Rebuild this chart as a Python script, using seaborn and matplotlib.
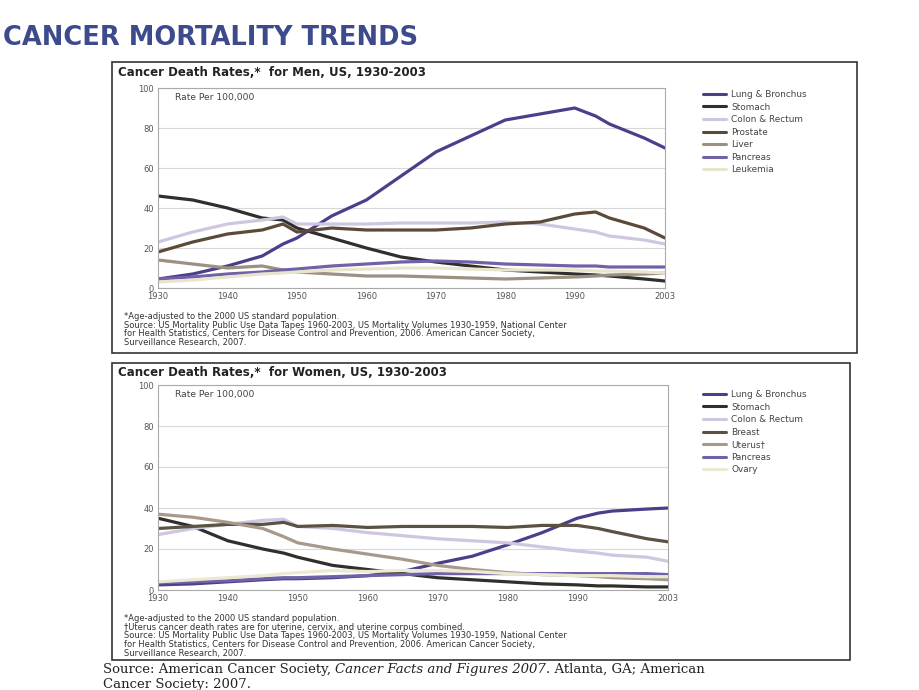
import matplotlib
matplotlib.use("Agg")
import matplotlib.pyplot as plt
import seaborn as sns
import pandas as pd
from matplotlib.patches import Rectangle

# shared year grid
years = [1930, 1935, 1940, 1945, 1948, 1950, 1955, 1960, 1965, 1970,
         1975, 1980, 1985, 1990, 1993, 1995, 2000, 2003]

# Men
men_lung = [4.5, 7, 11, 16, 22, 25, 36, 44, 56, 68, 76, 84, 87, 90, 86, 82, 75, 70]
men_stomach = [46, 44, 40, 35, 34, 30, 25, 20, 15.5, 13, 11, 9, 8, 7, 6.5, 6, 4.5, 3.5]
men_colon = [23, 28, 32, 34, 35.5, 32, 32, 32, 32.5, 32.5, 32.5, 33, 32, 29.5, 28, 26, 24, 22]
men_prostate = [18, 23, 27, 29, 32, 28, 30, 29, 29, 29, 30, 32, 33, 37, 38, 35, 30, 25]
men_liver = [14, 12, 10, 11, 9, 8, 7, 6, 6, 5.5, 5, 4.5, 5, 5.5, 6, 6.5, 7, 7.5]
men_pancreas = [4.5, 5.5, 7, 8, 9, 9.5, 11, 12, 13, 13.5, 13, 12, 11.5, 11, 11, 10.5, 10.5, 10.5]
men_leukemia = [3, 4, 5.5, 7, 7.5, 8, 9, 9.5, 10, 10, 9.5, 9, 9, 9, 8.5, 8.5, 8, 7.5]

# Women
women_lung = [2.5, 3, 4, 5, 5.5, 5.5, 6, 7, 9, 13, 16.5, 22, 28, 35, 37.5, 38.5, 39.5, 40]
women_stomach = [35, 31, 24, 20, 18, 16, 12, 10, 8, 6, 5, 4, 3, 2.5, 2, 2, 1.5, 1.5]
women_colon = [27, 30, 32, 34, 34.5, 31, 30, 28, 26.5, 25, 24, 23, 21, 19, 18, 17, 16, 14]
women_breast = [30, 31, 32, 32, 33, 31, 31.5, 30.5, 31, 31, 31, 30.5, 31.5, 31.5, 30, 28.5, 25, 23.5]
women_uterus = [37, 35.5, 33, 30, 26, 23, 20, 17.5, 15, 12, 10, 8.5, 7.5, 7, 6.5, 6, 5.5, 5]
women_pancreas = [3.5, 4, 4.5, 5.5, 6, 6, 6.5, 7, 7.5, 8, 8, 8, 8, 8, 8, 8, 8, 7.5]
women_ovary = [4, 5, 6, 7, 8, 8.5, 9.5, 9, 9.5, 9.5, 9, 8, 7.5, 7, 7, 7, 6.5, 6.5]

men_sites = ["Lung & Bronchus", "Stomach", "Colon & Rectum", "Prostate",
             "Liver", "Pancreas", "Leukemia"]
men_values = [men_lung, men_stomach, men_colon, men_prostate,
              men_liver, men_pancreas, men_leukemia]
women_sites = ["Lung & Bronchus", "Stomach", "Colon & Rectum", "Breast",
               "Uterus\u2020", "Pancreas", "Ovary"]
women_values = [women_lung, women_stomach, women_colon, women_breast,
                women_uterus, women_pancreas, women_ovary]

men_colors = ["#4b3f8c", "#2f302b", "#cdc8e0", "#5b4a3a", "#9c9082", "#7062a8", "#e9e5cc"]
women_colors = ["#4b3f8c", "#2f302b", "#cdc8e0", "#5a5242", "#a8998a", "#7062a8", "#ece8d2"]

xticks = [1930, 1940, 1950, 1960, 1970, 1980, 1990, 2003]
yticks = [0, 20, 40, 60, 80, 100]

W, H = 920, 690


def long_df(sites, values):
    rows = []
    for s, v in zip(sites, values):
        for y, r in zip(years, v):
            rows.append({"year": y, "rate": r, "site": s})
    return pd.DataFrame(rows)


def px_axes(fig, x0, y0, x1, y1):
    return fig.add_axes([x0 / W, 1 - y1 / H, (x1 - x0) / W, (y1 - y0) / H])


def panel(fig, box, area, title, sites, values, colors, notes, legend_top):
    bx0, by0, bx1, by1 = box
    fig.patches.append(Rectangle((bx0 / W, 1 - by1 / H), (bx1 - bx0) / W, (by1 - by0) / H,
                                 transform=fig.transFigure, fill=False,
                                 edgecolor="#333333", linewidth=1.2))
    fig.text((bx0 + 6) / W, 1 - (by0 + 10) / H, title, fontsize=8.5,
             fontweight="bold", color="#222222", va="center")
    ax = px_axes(fig, *area)
    df = long_df(sites, values)
    sns.lineplot(data=df, x="year", y="rate", hue="site", hue_order=sites,
                 palette=colors, linewidth=2.3, ax=ax)
    ax.set_xlim(1930, 2003)
    ax.set_ylim(0, 100)
    ax.set_xticks(xticks)
    ax.set_yticks(yticks)
    ax.set_xlabel("")
    ax.set_ylabel("")
    ax.grid(axis="y", color="#d8d8d8", linewidth=0.8)
    ax.grid(axis="x", visible=False)
    ax.tick_params(axis="both", labelsize=6, colors="#555555", length=3,
                   direction="in", pad=3)
    ax.tick_params(axis="y", length=0)
    for sp in ax.spines.values():
        sp.set_color("#aaaaaa")
        sp.set_linewidth(0.8)
    ax.text(0.033, 0.975, "Rate Per 100,000", transform=ax.transAxes,
            fontsize=6.6, color="#444444", va="top")
    h = area[3] - area[1]
    leg = ax.legend(loc="upper left",
                    bbox_to_anchor=((703 - area[0]) / (area[2] - area[0]),
                                    1 - (legend_top - area[1]) / h),
                    frameon=False, fontsize=6.4, handlelength=2.6, labelspacing=0.4,
                    handletextpad=0.6, borderaxespad=0, borderpad=0)
    for t in leg.get_texts():
        t.set_color("#444444")
    for line in leg.get_lines():
        line.set_linewidth(2.2)
    fig.text((area[0] - 34) / W, 1 - (area[3] + 24) / H, notes, fontsize=6,
             color="#333333", va="top", linespacing=0.95)
    return ax


sns.set_theme(style="white")
plt.rcParams["font.family"] = ["DejaVu Sans"]

fig = plt.figure(figsize=(W / 100, H / 100), dpi=100)

fig.text(3 / W, 1 - 38 / H, "CANCER MORTALITY TRENDS", fontsize=18.5,
         fontweight="bold", color="#3d4b8c", va="center")

men_notes = ("*Age-adjusted to the 2000 US standard population.\n"
             "Source: US Mortality Public Use Data Tapes 1960-2003, US Mortality Volumes 1930-1959, National Center\n"
             "for Health Statistics, Centers for Disease Control and Prevention, 2006. American Cancer Society,\n"
             "Surveillance Research, 2007.")
women_notes = ("*Age-adjusted to the 2000 US standard population.\n"
               "\u2020Uterus cancer death rates are for uterine, cervix, and uterine corpus combined.\n"
               "Source: US Mortality Public Use Data Tapes 1960-2003, US Mortality Volumes 1930-1959, National Center\n"
               "for Health Statistics, Centers for Disease Control and Prevention, 2006. American Cancer Society,\n"
               "Surveillance Research, 2007.")

panel(fig, (112, 62, 857, 353), (158, 88, 665, 288),
      "Cancer Death Rates,*  for Men, US, 1930-2003",
      men_sites, men_values, men_colors, men_notes, 90)
panel(fig, (112, 363, 850, 660), (158, 385, 668, 590),
      "Cancer Death Rates,*  for Women, US, 1930-2003",
      women_sites, women_values, women_colors, women_notes, 390)

# source line in serif, with italic title
fig.canvas.draw()
r = fig.canvas.get_renderer()
x = 103 / W
y = 1 - 673 / H
parts = [("Source: American Cancer Society, ", "normal"),
         ("Cancer Facts and Figures 2007", "italic"),
         (". Atlanta, GA; American", "normal")]
for txt, style in parts:
    t = fig.text(x, y, txt, fontsize=9.5, family="DejaVu Serif", style=style,
                 color="#222222", va="baseline")
    bb = t.get_window_extent(renderer=r)
    x += bb.width / fig.bbox.width
fig.text(103 / W, 1 - 688 / H, "Cancer Society: 2007.", fontsize=9.5,
         family="DejaVu Serif", color="#222222", va="baseline")

fig.savefig("out.png", dpi=100)
